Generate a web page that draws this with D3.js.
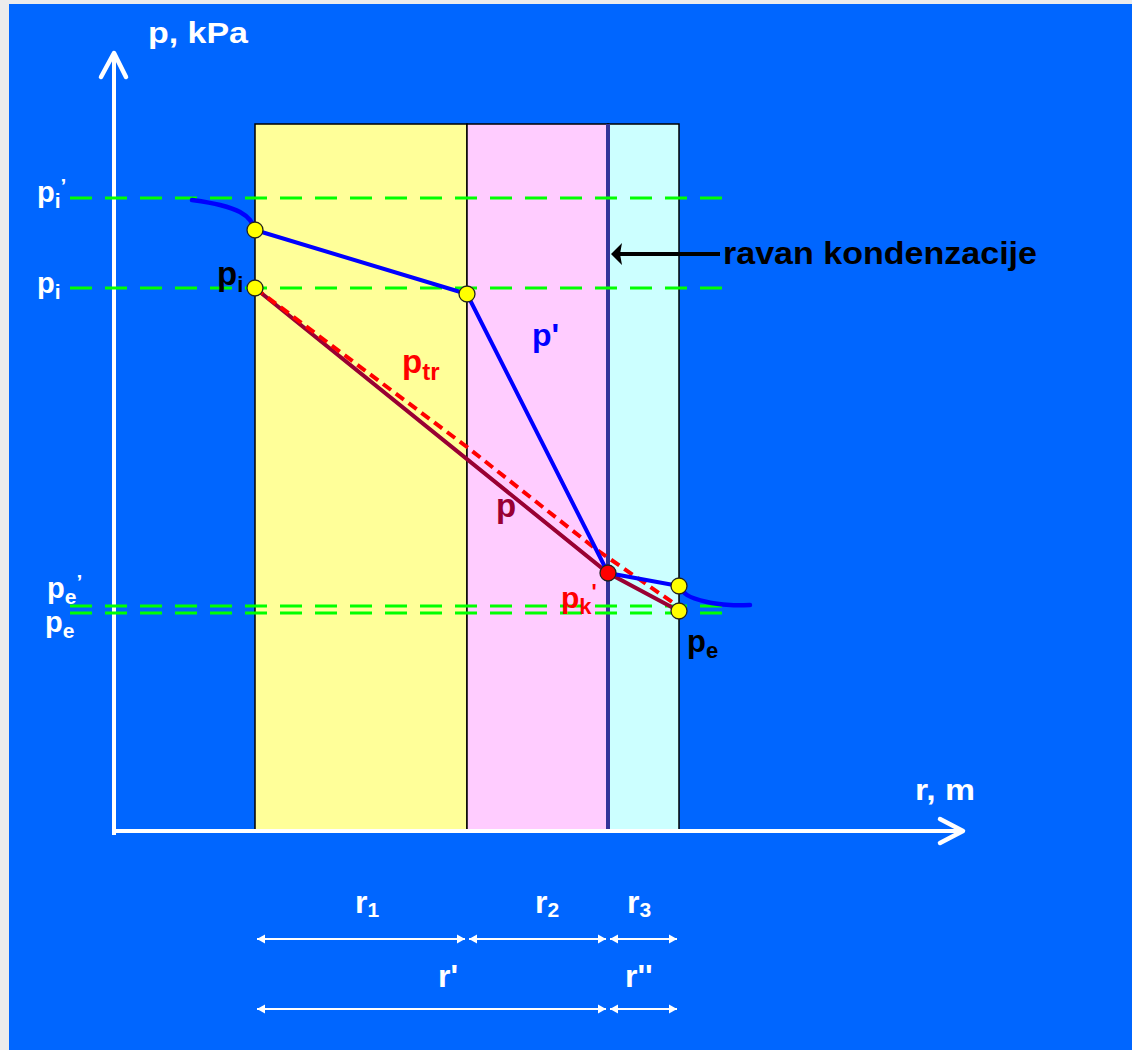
<!DOCTYPE html>
<html>
<head>
<meta charset="utf-8">
<script src="https://cdn.jsdelivr.net/npm/d3@7"></script>
<style>
body{margin:0;background:#ececec;}
svg{display:block;}
text{font-family:"Liberation Sans",Arial,sans-serif;font-weight:bold;}
</style>
</head>
<body>
<svg id="plot" width="1132" height="1050"></svg>
<script>
// diagram data (r in arbitrary units, p in kPa)
var layerEdges = [141, 353, 494, 565];
var layerFills = ["#ffff99", "#ffccff", "#ccffff"];
var layerTop = 707;
var condensationR = 494;

var levelNames = ["pi'", "pi", "pe'", "pe"];
var levelValues = [633, 543, 225, 218];
var levelFrom = -44, levelTo = 614;

// p' curve, split into a curved tail, straight middle and curved tail
var pPrimeLeft = [[78,631],[106,626],[126,619],[136,611],[141,601]];
var pPrimeMid = [[141,601],[353,537],[494,258],[565,245]];
var pPrimeRight = [[565,245],[573,236],[593,229],[616,226],[636,226]];
var pLine = [[141,543],[494,258],[565,220]];
var pTr = [[141,543],[353,384],[483,281],[561,227]];

var yellowPts = [[141,601],[141,543],[353,537],[565,245],[565,220]];
var redPts = [[494,258]];

var x = d3.scaleLinear().domain([0, 850]).range([114, 964]);
var y = d3.scaleLinear().domain([0, 800]).range([831, 31]);

var svg = d3.select("#plot");
svg.append("rect").attr("x",9).attr("y",4).attr("width",1123).attr("height",1046).attr("fill","#0066ff");

// layers
for(var i=0;i<layerFills.length;i++){
	svg.append("rect")
	.attr("x",x(layerEdges[i]))
	.attr("y",y(layerTop))
	.attr("width",x(layerEdges[i+1])-x(layerEdges[i]))
	.attr("height",y(0)-y(layerTop))
	.attr("fill",layerFills[i])
	.attr("stroke","#000")
	.attr("stroke-width",1.5);
}
svg.append("line")
.attr("x1",x(condensationR)).attr("x2",x(condensationR))
.attr("y1",y(layerTop)).attr("y2",y(0))
.attr("stroke","#333399").attr("stroke-width",4);

// axes
function chevron(pts,col,w){
	svg.append("path").attr("d",d3.line()(pts)).attr("fill","none")
	.attr("stroke",col).attr("stroke-width",w)
	.attr("stroke-linecap","round").attr("stroke-linejoin","round");
}
svg.append("line").attr("x1",x(0)).attr("x2",x(0)).attr("y1",y(-4)).attr("y2",y(778))
.attr("stroke","#fff").attr("stroke-width",4);
chevron([[x(0)-13,y(754)],[x(0),y(778)],[x(0)+12,y(754)]],"#fff",4.5);
svg.append("line").attr("x1",x(-2)).attr("x2",x(849)).attr("y1",y(0)).attr("y2",y(0))
.attr("stroke","#fff").attr("stroke-width",4);
chevron([[x(826),y(12)],[x(849),y(0)],[x(826),y(-12)]],"#fff",4.5);

// level lines
levelValues.forEach(function(v){
	svg.append("line")
	.attr("x1",x(levelFrom)).attr("x2",x(levelTo))
	.attr("y1",y(v)).attr("y2",y(v))
	.attr("stroke","#00ff00").attr("stroke-width",3)
	.attr("stroke-dasharray","22,13");
});

var line = d3.line().x(function(d){return x(d[0]);}).y(function(d){return y(d[1]);});
var curve = d3.line().x(function(d){return x(d[0]);}).y(function(d){return y(d[1]);}).curve(d3.curveCatmullRom);

svg.append("path").attr("d",line(pLine)).attr("fill","none").attr("stroke","#990033").attr("stroke-width",4);
svg.append("path").attr("d",line(pTr)).attr("fill","none").attr("stroke","#ff0000").attr("stroke-width",4)
.attr("stroke-dasharray","10,6");
[pPrimeLeft,pPrimeRight].forEach(function(c){
	svg.append("path").attr("d",curve(c)).attr("fill","none").attr("stroke","#0000ff").attr("stroke-width",4.5).attr("stroke-linecap","round");
});
svg.append("path").attr("d",line(pPrimeMid)).attr("fill","none").attr("stroke","#0000ff").attr("stroke-width",4).attr("stroke-linejoin","round");

// markers
yellowPts.forEach(function(d){
	svg.append("circle").attr("cx",x(d[0])).attr("cy",y(d[1])).attr("r",8)
	.attr("fill","#ffff00").attr("stroke","#222").attr("stroke-width",1.3);
});
redPts.forEach(function(d){
	svg.append("circle").attr("cx",x(d[0])).attr("cy",y(d[1])).attr("r",8)
	.attr("fill","#ff0000").attr("stroke","#222").attr("stroke-width",1.3);
});

// condensation arrow
svg.append("line").attr("x1",720).attr("x2",x(condensationR)+6).attr("y1",254).attr("y2",254)
.attr("stroke","#000").attr("stroke-width",4);
svg.append("path").attr("d",d3.line()([[x(condensationR)+3,254],[x(condensationR)+14,243],[x(condensationR)+12,254],[x(condensationR)+14,265]])+"Z").attr("fill","#000");
svg.append("text").attr("x",723).attr("y",264).attr("font-size",31).attr("fill","#000")
.attr("textLength",314).attr("lengthAdjust","spacingAndGlyphs").text("ravan kondenzacije");

// labels with subscript and prime
function label(base,sub,prime,px,py,col,fs,sfs){
	var t = svg.append("text").attr("x",px).attr("y",py).attr("fill",col).attr("font-size",fs);
	t.append("tspan").text(base);
	if(sub) t.append("tspan").attr("dy",fs*0.2).attr("font-size",sfs).text(sub);
	if(prime) t.append("tspan").attr("dy",sub? -fs*0.5 : 0).attr("font-size",sfs).text(prime);
}
svg.append("text").attr("x",148).attr("y",43).attr("font-size",29).attr("fill","#fff")
.attr("textLength",100).attr("lengthAdjust","spacingAndGlyphs").text("p, kPa");
svg.append("text").attr("x",915).attr("y",800).attr("font-size",30).attr("fill","#fff")
.attr("textLength",60).attr("lengthAdjust","spacingAndGlyphs").text("r, m");

label("p","i","\u2019",37,202,"#fff",29,21);
label("p","i","",37,293,"#fff",29,21);
label("p","e","\u2019",47,598,"#fff",29,21);
label("p","e","",45,632,"#fff",29,21);
label("p","i","",217,285,"#000",33,22);
label("p","e","",687,652,"#000",31,22);
label("p","tr","",402,373,"#ff0000",33,24);
label("p'","","",532,346,"#0000ff",32,22);
label("p","","",496,517,"#990033",33,22);
label("p","k","'",561,608,"#ff0000",30,22);

// dimension arrows below the axis
var dimRows = [
	{y:939, spans:[[141,353],[353,494],[494,565]], names:[["r","1"],["r","2"],["r","3"]], ty:913},
	{y:1009, spans:[[141,494],[494,565]], names:[["r'",""],["r''",""]], ty:987}
];
var labelX = [[355,535,627],[438,625]];
dimRows.forEach(function(row,ri){
	row.spans.forEach(function(s,si){
		var x1 = x(s[0])+2, x2 = x(s[1])-2;
		svg.append("line").attr("x1",x1).attr("x2",x2).attr("y1",row.y).attr("y2",row.y)
		.attr("stroke","#fff").attr("stroke-width",2);
		svg.append("path").attr("d",d3.line()([[x1,row.y],[x1+8,row.y-4.5],[x1+8,row.y+4.5]])+"Z").attr("fill","#fff");
		svg.append("path").attr("d",d3.line()([[x2,row.y],[x2-8,row.y-4.5],[x2-8,row.y+4.5]])+"Z").attr("fill","#fff");
		var n = row.names[si];
		var t = svg.append("text").attr("x",labelX[ri][si]).attr("y",row.ty).attr("fill","#fff").attr("font-size",32);
		t.append("tspan").text(n[0]);
		if(n[1]) t.append("tspan").attr("dy",4).attr("font-size",21).text(n[1]);
	});
});
</script>
</body>
</html>
